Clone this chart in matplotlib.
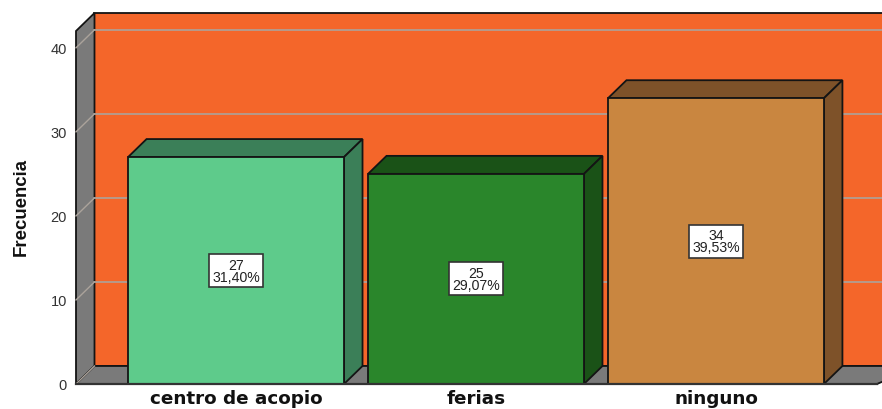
import matplotlib.pyplot as plt
from matplotlib.patches import Polygon

categories = ['centro de acopio', 'ferias', 'ninguno']
counts = [27, 25, 34]
percents = ['31,40%', '29,07%', '39,53%']
y_ticks = [0, 10, 20, 30, 40]

front_colors = ['#5ECB8B', '#2A862B', '#C98640']
top_colors = ['#3B7F58', '#1A5217', '#7E5229']
side_colors = ['#3B7F58', '#1A5217', '#7E5229']

WALL = '#F4662A'
SIDE_GRAY = '#7A7A7A'
GRID = '#ABA39B'
EDGE = '#141414'

# axes run from 76..882 px and 385..32 px, one category = 240 px, 10 units = 84 px
X_MIN, X_MAX = -0.667, 2.692
X_END = 2.671
Y_MAX = 42.0
DX = 18.5 / 240
DY = 18 / 8.4
BAR_WIDTH = 0.9

W, H = 882, 410
fig = plt.figure(figsize=(W / 100, H / 100), dpi=100)
ax = fig.add_axes([76 / W, (H - 385) / H, (882 - 76) / W, (385 - 32) / H])
ax.set_xlim(X_MIN, X_MAX)
ax.set_ylim(0, Y_MAX)
for s in ax.spines.values():
    s.set_visible(False)
ax.patch.set_visible(False)


def poly(pts, color, z, lw=1.3, edge=EDGE):
    ax.add_patch(Polygon(pts, closed=True, facecolor=color, edgecolor=edge,
                         linewidth=lw, zorder=z, clip_on=False, joinstyle='miter'))


# back wall, left wall, floor
poly([(X_MIN + DX, DY), (X_END + DX + 0.1, DY), (X_END + DX + 0.1, Y_MAX + DY),
      (X_MIN + DX, Y_MAX + DY)], WALL, 1)
poly([(X_MIN, 0), (X_MIN + DX, DY), (X_MIN + DX, Y_MAX + DY), (X_MIN, Y_MAX)],
     SIDE_GRAY, 1)
poly([(X_MIN, 0), (X_MIN + DX, DY), (X_END + DX + 0.1, DY), (X_END, 0)],
     SIDE_GRAY, 1.5)

# gridlines on the walls
for t in y_ticks[1:]:
    ax.plot([X_MIN + DX, X_MAX + 0.1], [t + DY, t + DY], color=GRID, lw=1.2,
            zorder=2, clip_on=False)
for t in y_ticks:
    ax.plot([X_MIN, X_MIN + DX], [t, t + DY], color=GRID, lw=1.0, zorder=2,
            clip_on=False)

# bars
x_pos = list(range(len(categories)))
ax.bar(x_pos, counts, width=BAR_WIDTH, color=front_colors, edgecolor=EDGE,
       linewidth=1.3, zorder=5, clip_on=False)
for x, c, top, side, pct in zip(x_pos, counts, top_colors, side_colors, percents):
    l, r = x - BAR_WIDTH / 2, x + BAR_WIDTH / 2
    poly([(l, c), (l + DX, c + DY), (r + DX, c + DY), (r, c)], top, 4)
    poly([(r, 0), (r + DX, DY), (r + DX, c + DY), (r, c)], side, 4)
    ax.text(x, c / 2, f'{c}\n{pct}', ha='center', va='center', fontsize=10.2,
            family='Liberation Sans', color='#222222', linespacing=0.82, zorder=7,
            bbox=dict(boxstyle='square,pad=0.25', facecolor='white',
                      edgecolor='#333333', linewidth=1.2))

# front baseline
ax.plot([X_MIN, X_END], [0, 0], color='#333333', lw=1.6, zorder=6, clip_on=False)

ax.set_yticks(y_ticks)
ax.set_yticklabels([str(t) for t in y_ticks], family='Liberation Sans', fontsize=10.5,
                   color='#333333')
ax.tick_params(axis='y', length=0, pad=6.5)
ax.set_xticks(x_pos)
ax.set_xticklabels(categories, family='DejaVu Sans', fontweight='bold', fontsize=13.2,
                   color='#111111')
ax.tick_params(axis='x', length=0, pad=3.5)

fig.text(21 / W, 1 - 207 / H, 'Frecuencia', rotation=90, ha='center', va='center',
         family='Liberation Sans', fontweight='bold', fontsize=13.4, color='#111111')

fig.savefig('out.png', dpi=100)
